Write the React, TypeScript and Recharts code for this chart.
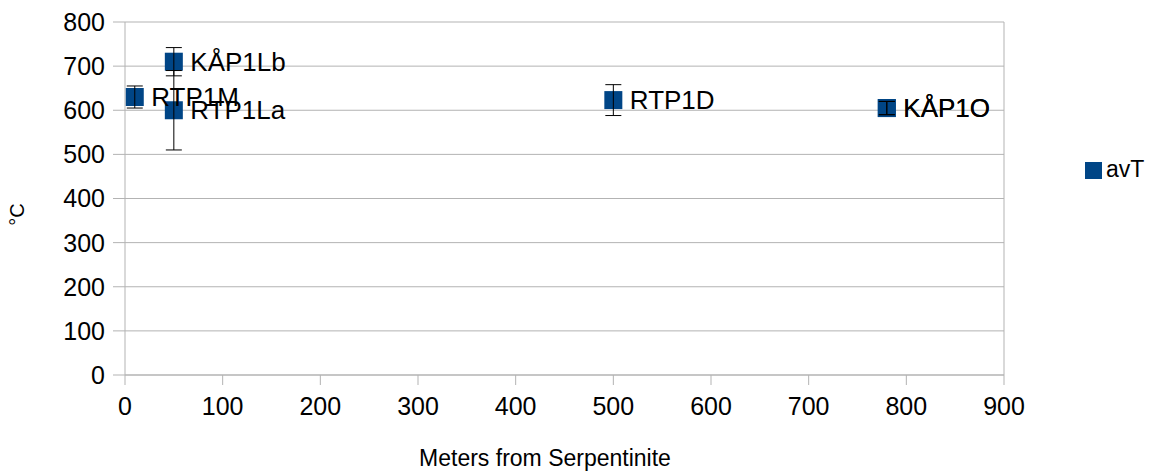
import React from 'react';
import {
  ScatterChart,
  Scatter,
  XAxis,
  YAxis,
  CartesianGrid,
  Legend,
  ErrorBar,
  LabelList,
  ReferenceLine,
} from 'recharts';

const sampleNames = ['RTP1M', 'KÅP1Lb', 'RTP1La', 'RTP1D', 'KÅP1O', 'KÅP1O'];
const distance = [10, 50, 50, 500, 780, 780];
const avgTemp = [630, 710, 600, 623, 605, 605];
const tempError = [25, 32, 90, 35, 15, 15];

const xTicks = [0, 100, 200, 300, 400, 500, 600, 700, 800, 900];
const yTicks = [0, 100, 200, 300, 400, 500, 600, 700, 800];

const data = sampleNames.map((name, i) => ({
  name,
  x: distance[i],
  y: avgTemp[i],
  err: tempError[i],
}));

const FONT = '"Liberation Sans", Arial, sans-serif';
const BLUE = '#004586';
const GRID = '#b3b3b3';

const SquareDot = (props: any) => {
  const { cx, cy } = props;
  if (cx == null || cy == null) return null;
  return <rect x={cx - 9} y={cy - 9} width={18} height={18} fill={BLUE} />;
};

const NoDot = () => <g />;

const YTitle = (props: any) => {
  const vb = props.viewBox || {};
  const cx = 17;
  const cy = vb.y + vb.height / 2 + 16;
  return (
    <text
      x={cx}
      y={cy}
      transform={`rotate(-90 ${cx} ${cy})`}
      textAnchor="middle"
      dominantBaseline="central"
      fill="#000"
      fontSize={20}
      fontFamily={FONT}
    >
      °C
    </text>
  );
};

const XTitle = () => (
  <text
    x={545}
    y={458}
    textAnchor="middle"
    dominantBaseline="central"
    fill="#000"
    fontSize={23}
    fontFamily={FONT}
  >
    Meters from Serpentinite
  </text>
);

export default function App() {
  return (
    <div style={{ position: 'absolute', left: 0, top: 0, background: '#fff', fontFamily: FONT }}>
      <ScatterChart
        width={1155}
        height={473}
        margin={{ top: 22, right: 81, left: 0, bottom: 0 }}
      >
        <CartesianGrid horizontal vertical={false} stroke={GRID} />
        <XAxis
          type="number"
          dataKey="x"
          domain={[0, 900]}
          ticks={xTicks}
          interval={0}
          height={98}
          stroke={GRID}
          tickSize={10}
          tickMargin={12}
          tick={{ fill: '#000', fontSize: 25, fontFamily: FONT }}
          label={{ content: <XTitle /> }}
        />
        <YAxis
          type="number"
          dataKey="y"
          domain={[0, 800]}
          ticks={yTicks}
          interval={0}
          width={125}
          stroke={GRID}
          tickSize={12}
          tickMargin={8}
          tick={{ fill: '#000', fontSize: 25, fontFamily: FONT }}
          label={{ content: <YTitle /> }}
        />
        <ReferenceLine x={900} stroke={GRID} />
        <Legend
          layout="vertical"
          align="right"
          verticalAlign="middle"
          iconType="square"
          iconSize={17}
          wrapperStyle={{
            width: 70,
            left: 1085,
            top: 156,
            fontSize: 23,
            fontFamily: FONT,
            color: '#000',
          }}
          formatter={(v: string) => <span style={{ color: '#000' }}>{v}</span>}
        />
        <Scatter
          name="avT"
          data={data}
          fill={BLUE}
          shape={SquareDot}
          legendType="square"
          isAnimationActive={false}
        >
          <LabelList
            dataKey="name"
            position="right"
            offset={12}
            fill="#000"
            fontSize={26}
            fontFamily={FONT}
          />
        </Scatter>
        <Scatter
          name="err"
          data={data}
          shape={NoDot}
          legendType="none"
          isAnimationActive={false}
          {...({ zIndex: 700 } as any)}
        >
          <ErrorBar
            dataKey="err"
            direction="y"
            width={8}
            stroke="#000"
            strokeWidth={1}
            isAnimationActive={false}
            {...({ zIndex: 700 } as any)}
          />
        </Scatter>
      </ScatterChart>
    </div>
  );
}
